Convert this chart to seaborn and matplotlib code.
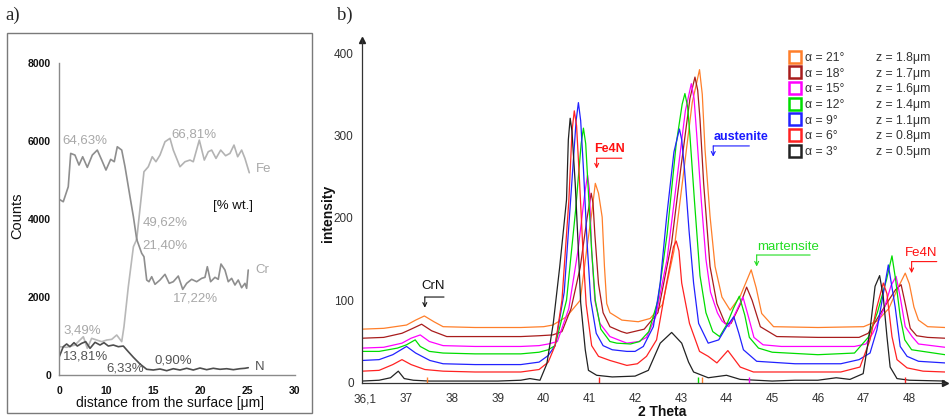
import numpy as np
import pandas as pd
import matplotlib
matplotlib.use('Agg')
import matplotlib.pyplot as plt
from matplotlib.lines import Line2D
from matplotlib.patches import Rectangle
from matplotlib.ticker import MultipleLocator, FixedLocator
import seaborn as sns

# ---------------- panel a data (EDS line scan) ----------------
fe_pos = [0.00, 0.42, 0.95, 1.21, 1.66, 2.09, 2.48, 2.97, 3.50, 4.03,
          4.50, 4.95, 5.45, 5.83, 6.15, 6.62, 6.97, 7.50, 7.86, 8.21,
          8.98, 9.44, 9.86, 10.25, 10.68, 11.21, 11.74, 12.09, 12.80, 13.33,
          13.86, 14.21, 14.85, 15.38, 15.80, 16.16, 16.62, 17.12, 17.64, 18.10,
          18.53, 18.92, 19.34, 19.69, 20.15]
fe_counts = [4500, 4438, 4823, 5677, 5634, 5378, 5591, 5319, 5634, 5762,
             5506, 5250, 5524, 5463, 5847, 5762, 5335, 4566, 4054, 3475,
             5207, 5335, 5591, 5463, 5634, 5975, 6062, 5762, 5335, 5463,
             5506, 5463, 6018, 5506, 5719, 5762, 5549, 5762, 5617, 5677,
             5890, 5591, 5762, 5549, 5182]
cr_pos = [0.00, 0.78, 1.66, 2.55, 2.97, 3.43, 3.97, 4.50, 5.03, 5.56,
          6.09, 6.62, 6.86, 7.32, 7.86, 8.21, 8.74, 8.98, 9.27, 9.51,
          9.80, 10.15, 10.68, 11.21, 11.66, 12.09, 12.62, 13.09, 13.51, 14.04,
          14.57, 15.10, 15.45, 15.70, 16.05, 16.51, 16.86, 17.15, 17.57, 17.92,
          18.28, 18.63, 18.98, 19.34, 19.69, 19.87, 20.04]
cr_counts = [725, 709, 768, 981, 683, 939, 896, 854, 896, 913,
             1024, 854, 1237, 2262, 3286, 3475, 3117, 3030, 2433, 2390,
             2518, 2323, 2433, 2579, 2348, 2390, 2535, 2194, 2348, 2451,
             2390, 2476, 2502, 2774, 2390, 2502, 2451, 2843, 2689, 2390,
             2476, 2305, 2433, 2236, 2348, 2220, 2689]
n_pos = [0.00, 0.42, 0.78, 1.13, 1.56, 1.91, 2.37, 2.80, 3.26, 3.79,
         4.32, 4.74, 5.20, 5.73, 6.26, 6.79, 7.32, 7.86, 8.56, 9.27,
         9.97, 10.68, 11.39, 12.09, 12.80, 13.51, 14.21, 14.92, 15.63, 16.33,
         17.04, 17.75, 18.46, 19.16, 19.69, 20.04]
n_counts = [470, 725, 794, 725, 828, 742, 811, 854, 683, 837,
            768, 828, 742, 768, 725, 742, 597, 453, 282, 146,
            128, 154, 110, 161, 128, 172, 128, 179, 136, 172,
            146, 161, 136, 161, 172, 187]
cross_pos = 8.21
a_xtick_pos = [0, 5, 10, 15, 20, 25]
a_xtick_labels = ['0', '10', '15', '20', '25', '30']
a_yticks = [0, 2000, 4000, 6000, 8000]
a_notes_text = ['64,63%', '66,81%', 'Fe', '[% wt.]', '49,62%', '21,40%', 'Cr',
                '17,22%', '3,49%', '13,81%', '6,33%', '0,90%', 'N']
a_notes_x = [0.29, 11.85, 20.86, 16.30, 8.88, 8.77, 20.75, 12.06, 0.39, 0.39, 4.95, 10.14, 20.75]
a_notes_y = [6018, 6164, 5268, 4336, 3911, 3329, 2689, 1964, 1152, 469, 172, 384, 213]
a_notes_col = ['#a8a8a8', '#a8a8a8', '#a8a8a8', '#111111', '#a8a8a8', '#a8a8a8', '#a8a8a8',
               '#a8a8a8', '#a8a8a8', '#555555', '#555555', '#555555', '#555555']

# ---------------- panel b data (XRD patterns) ----------------
th_3 = [36.03, 36.4, 36.65, 36.82, 36.95, 37.15, 37.5, 38.0, 38.5, 39.0,
        39.5, 39.7, 39.92, 40.07, 40.21, 40.35, 40.5, 40.54, 40.58, 40.62,
        40.69, 40.76, 40.81, 40.91, 40.98, 41.16, 41.5, 42.0, 42.29, 42.55,
        42.80, 43.02, 43.17, 43.28, 43.6, 44.0, 44.3, 45.0, 45.5, 46.0,
        46.4, 46.7, 46.99, 47.14, 47.25, 47.35, 47.43, 47.51, 47.58, 47.73,
        48.0, 48.78]
in_3 = [2, 3, 6, 14, 5, 3, 2, 2, 2, 2,
        3, 5, 3, 23, 72, 140, 222, 295, 321, 305,
        242, 161, 97, 40, 15, 9, 7, 8, 15, 48,
        61, 48, 25, 13, 6, 9, 4, 2, 3, 3,
        6, 4, 11, 64, 117, 130, 104, 56, 19, 5,
        3, 2]
th_6 = [36.03, 36.4, 36.7, 36.9, 37.1, 37.4, 37.8, 38.5, 39.0, 39.5,
        39.9, 40.1, 40.25, 40.4, 40.55, 40.62, 40.67, 40.72, 40.78, 40.86,
        40.93, 41.05, 41.2, 41.45, 41.82, 42.05, 42.25, 42.47, 42.69, 42.84,
        42.90, 42.96, 43.02, 43.19, 43.41, 43.6, 43.79, 44.03, 44.3, 44.59,
        45.5, 46.5, 46.92, 47.14, 47.29, 47.43, 47.51, 47.62, 47.73, 47.95,
        48.3, 48.78]
in_6 = [14, 15, 22, 28, 22, 16, 14, 13, 13, 13,
        16, 25, 45, 100, 220, 305, 330, 312, 250, 160,
        95, 45, 32, 27, 21, 23, 32, 52, 121, 165,
        172, 160, 121, 72, 38, 32, 24, 39, 19, 13,
        13, 13, 19, 52, 92, 121, 108, 56, 28, 18,
        14, 13]
th_9 = [36.03, 36.4, 36.7, 36.88, 37.0, 37.2, 37.51, 37.8, 38.5, 39.0,
        39.5, 39.9, 40.1, 40.25, 40.45, 40.6, 40.71, 40.76, 40.81, 40.87,
        40.95, 41.03, 41.15, 41.3, 41.5, 41.82, 42.0, 42.18, 42.40, 42.55,
        42.69, 42.85, 42.97, 43.02, 43.08, 43.18, 43.28, 43.39, 43.6, 43.83,
        44.0, 44.16, 44.27, 44.37, 44.66, 45.5, 46.5, 46.9, 47.14, 47.29,
        47.43, 47.54, 47.69, 47.8, 47.95, 48.2, 48.78]
in_9 = [27, 28, 34, 40, 44, 36, 27, 23, 22, 22,
        22, 25, 33, 45, 110, 230, 318, 340, 318, 260,
        170, 100, 60, 45, 40, 38, 38, 44, 68, 121,
        201, 280, 308, 295, 260, 185, 121, 72, 48, 52,
        68, 80, 60, 40, 26, 23, 23, 28, 36, 64,
        108, 143, 92, 44, 32, 26, 24]
th_12 = [36.03, 36.4, 36.8, 37.0, 37.19, 37.3, 37.5, 37.8, 38.5, 39.0,
         39.5, 39.9, 40.1, 40.25, 40.5, 40.7, 40.82, 40.87, 40.92, 40.97,
         41.05, 41.13, 41.25, 41.45, 41.6, 41.9, 42.1, 42.3, 42.5, 42.7,
         42.9, 43.03, 43.09, 43.15, 43.2, 43.3, 43.42, 43.55, 43.7, 43.85,
         44.0, 44.15, 44.28, 44.4, 44.5, 44.7, 45.0, 46.0, 46.8, 47.1,
         47.3, 47.5, 47.62, 47.7, 47.8, 47.9, 48.05, 48.78]
in_12 = [38, 38, 42, 46, 52, 44, 38, 36, 35, 35,
         35, 37, 40, 45, 100, 210, 290, 309, 290, 240,
         160, 100, 65, 50, 48, 47, 50, 62, 100, 180,
         290, 338, 351, 335, 300, 220, 130, 85, 62, 56,
         70, 90, 105, 82, 55, 42, 37, 34, 36, 55,
         85, 125, 154, 125, 80, 52, 40, 34]
th_15 = [36.03, 36.5, 36.9, 37.1, 37.3, 37.5, 37.8, 38.5, 39.0, 39.5,
         39.9, 40.1, 40.3, 40.55, 40.75, 40.9, 40.96, 41.0, 41.05, 41.12,
         41.23, 41.45, 41.82, 42.08, 42.25, 42.45, 42.7, 42.9, 43.1, 43.23,
         43.29, 43.35, 43.45, 43.55, 43.65, 43.8, 43.9, 44.05, 44.2, 44.36,
         44.48, 44.6, 44.8, 45.2, 46.0, 46.8, 47.05, 47.2, 47.45, 47.6,
         47.71, 47.8, 47.91, 48.06, 48.2, 48.78]
in_15 = [42, 43, 48, 54, 58, 50, 45, 44, 44, 44,
         45, 47, 50, 90, 160, 230, 252, 235, 161, 100,
         72, 56, 48, 50, 55, 80, 150, 240, 330, 363,
         345, 300, 220, 150, 110, 85, 75, 68, 85, 104,
         80, 55, 46, 44, 44, 44, 47, 60, 90, 118,
         129, 104, 68, 56, 47, 43]
th_18 = [36.03, 36.5, 36.9, 37.1, 37.33, 37.55, 37.88, 38.5, 39.0, 39.5,
         39.9, 40.2, 40.4, 40.6, 40.8, 40.95, 41.04, 41.08, 41.12, 41.2,
         41.3, 41.45, 41.7, 41.82, 42.2, 42.5, 42.8, 43.0, 43.2, 43.31,
         43.37, 43.42, 43.5, 43.64, 43.79, 43.97, 44.1, 44.3, 44.44, 44.56,
         44.74, 45.1, 46.0, 46.9, 47.1, 47.3, 47.5, 47.7, 47.82, 47.91,
         48.02, 48.16, 48.4, 48.78]
in_18 = [54, 55, 60, 65, 71, 63, 56, 56, 56, 56,
         57, 58, 62, 90, 140, 200, 230, 218, 180, 120,
         85, 68, 62, 60, 65, 85, 170, 260, 345, 371,
         355, 320, 242, 141, 96, 72, 72, 95, 116, 100,
         68, 56, 55, 55, 60, 78, 96, 113, 119, 96,
         66, 57, 55, 54]
th_21 = [36.03, 36.5, 37.0, 37.2, 37.39, 37.6, 37.8, 38.5, 39.0, 39.5,
         40.0, 40.2, 40.5, 40.8, 40.94, 41.05, 41.13, 41.2, 41.28, 41.33,
         41.38, 41.45, 41.71, 42.07, 42.33, 42.6, 42.85, 43.05, 43.25, 43.41,
         43.47, 43.53, 43.64, 43.75, 43.9, 44.08, 44.3, 44.54, 44.65, 44.77,
         45.03, 46.0, 47.0, 47.3, 47.55, 47.75, 47.91, 48.0, 48.1, 48.2,
         48.4, 48.78]
in_21 = [65, 66, 70, 76, 81, 74, 68, 67, 67, 67,
         68, 70, 80, 100, 161, 205, 242, 230, 201, 141,
         96, 85, 76, 74, 78, 95, 160, 250, 340, 380,
         350, 283, 202, 141, 104, 88, 105, 137, 115, 84,
         68, 67, 68, 75, 90, 115, 133, 120, 92, 76,
         68, 67]
series_names = ['α = 21°', 'α = 18°', 'α = 15°', 'α = 12°', 'α = 9°', 'α = 6°', 'α = 3°']
depth_labels = ['z = 1.8μm', 'z = 1.7μm', 'z = 1.6μm', 'z = 1.4μm', 'z = 1.1μm', 'z = 0.8μm', 'z = 0.5μm']
series_theta = [th_21, th_18, th_15, th_12, th_9, th_6, th_3]
series_int = [in_21, in_18, in_15, in_12, in_9, in_6, in_3]
series_colors = ['#ff7f2a', '#a81c1c', '#ff00ff', '#00dd00', '#2222ff', '#ff2222', '#222222']
b_xticks = [36.1, 37, 38, 39, 40, 41, 42, 43, 44, 45, 46, 47, 48]
b_xtick_labels = ['36,1', '37', '38', '39', '40', '41', '42', '43', '44', '45', '46', '47', '48']
b_yticks = [0, 100, 200, 300, 400]
ref_pos = [37.45, 41.2, 43.38, 43.47, 44.5, 47.9]
ref_cols = ['#ff7f2a', '#ff2222', '#00dd00', '#ff7f2a', '#ff00ff', '#ff2222']
# phase labels: text, text x, text y, arrow x0, line x1, line y, arrow tip y, colour, weight, size
ann_text = ['CrN', 'Fe4N', 'austenite', 'martensite', 'Fe4N']
ann_tx = [37.58, 41.43, 44.31, 45.35, 48.25]
ann_ty = [117, 284, 298, 165, 157.5]
ann_x0 = [37.40, 41.16, 43.71, 44.66, 48.05]
ann_x1 = [37.82, 41.71, 44.50, 45.83, 48.60]
ann_yl = [104, 272.5, 287.4, 155, 147]
ann_yt = [91, 260, 274.4, 141, 133]
ann_col = ['#111111', '#ff1010', '#1a1aff', '#22dd22', '#ff1010']
ann_weight = ['normal', 'bold', 'bold', 'normal', 'normal']
ann_size = [9.5, 9, 9, 9.5, 9.5]

# ---------------- style ----------------
sns.set_style('white')
plt.rcParams['font.family'] = ['Liberation Sans', 'DejaVu Sans']

W, H = 952, 418
fig = plt.figure(figsize=(W / 100, H / 100), dpi=100)

def fx(px):
    return px / W

def fy(py):
    return 1 - py / H

# ---------------- panel a ----------------
fig.add_artist(Rectangle((fx(7), fy(413)), 305 / W, 380 / H, transform=fig.transFigure,
                         fill=False, ec='#7a7a7a', lw=1.0))
axa = fig.add_axes([fx(59.3), fy(375), (295 - 59.3) / W, (375 - 62.7) / H])

fe_df = pd.DataFrame({'pos': fe_pos, 'counts': fe_counts})
cr_df = pd.DataFrame({'pos': cr_pos, 'counts': cr_counts})
n_df = pd.DataFrame({'pos': n_pos, 'counts': n_counts})
df_a = pd.concat([
    fe_df[fe_df.pos <= cross_pos].assign(segment='Fe1'),
    fe_df[fe_df.pos >= cross_pos].assign(segment='Fe2'),
    cr_df[cr_df.pos <= cross_pos].assign(segment='Cr1'),
    cr_df[cr_df.pos >= cross_pos].assign(segment='Cr2'),
    n_df.assign(segment='N'),
], ignore_index=True)
pal_a = {'Fe1': '#8e8e8e', 'Cr2': '#8e8e8e', 'Fe2': '#b3b3b3', 'Cr1': '#b8b8b8', 'N': '#4e4e4e'}
sns.lineplot(data=df_a, x='pos', y='counts', hue='segment',
             hue_order=['Cr1', 'Fe2', 'Fe1', 'Cr2', 'N'], palette=pal_a,
             estimator=None, sort=False, lw=1.2, legend=False, ax=axa)
axa.set_xlim(0, 25)
axa.set_ylim(0, 8000)
axa.set_xlabel('')
axa.set_ylabel('')
for s in ['top', 'right']:
    axa.spines[s].set_visible(False)
for s in ['left', 'bottom']:
    axa.spines[s].set_color('#8a8a8a')
    axa.spines[s].set_linewidth(1.0)
axa.xaxis.set_major_locator(FixedLocator(a_xtick_pos))
axa.set_xticklabels(a_xtick_labels)
axa.xaxis.set_minor_locator(MultipleLocator(0.5))
axa.set_yticks(a_yticks)
axa.set_yticklabels([str(v) for v in a_yticks])
axa.tick_params(axis='x', which='major', direction='out', length=4, width=0.8, color='#8a8a8a',
                pad=4, labelsize=7.5, labelcolor='#111111')
axa.tick_params(axis='x', which='minor', direction='out', length=2.5, width=0.7, color='#8a8a8a')
axa.tick_params(axis='y', which='major', direction='out', length=3, width=0.8, color='#8a8a8a',
                pad=3, labelsize=7.5, labelcolor='#111111')
for lab in axa.get_xticklabels() + axa.get_yticklabels():
    lab.set_fontweight('bold')
axa.patch.set_alpha(0)
for t, x, y, c in zip(a_notes_text, a_notes_x, a_notes_y, a_notes_col):
    axa.text(x, y, t, color=c, fontsize=9.5, ha='left', va='center')
fig.text(fx(17), fy(216), 'Counts', rotation=90, ha='center', va='center', fontsize=10.5, color='#111111')
fig.text(fx(170.5), fy(402.7), 'distance from the surface [μm]', ha='center', va='center',
         fontsize=10, color='#111111')

# ---------------- panel b ----------------
axb = fig.add_axes([fx(362), fy(382.7), (945 - 362) / W, (382.7 - 40) / H])
frames = []
for name, th, it in zip(series_names, series_theta, series_int):
    frames.append(pd.DataFrame({'theta': th, 'intensity': it, 'series': name}))
df_b = pd.concat(frames, ignore_index=True)
pal_b = dict(zip(series_names, series_colors))
sns.lineplot(data=df_b, x='theta', y='intensity', hue='series', hue_order=series_names,
             palette=pal_b, estimator=None, sort=False, lw=0.9, legend=False, ax=axb)
axb.vlines(ref_pos, 0, 7, colors=ref_cols, lw=1.0)
axb.set_xlim(36.026, 48.78)
axb.set_ylim(0, 416)
axb.set_xlabel('')
axb.set_ylabel('')
for s in ['top', 'right']:
    axb.spines[s].set_visible(False)
for s in ['left', 'bottom']:
    axb.spines[s].set_color('#333333')
    axb.spines[s].set_linewidth(0.9)
axb.xaxis.set_major_locator(FixedLocator(b_xticks))
axb.set_xticklabels(b_xtick_labels)
axb.xaxis.set_minor_locator(MultipleLocator(0.1))
axb.set_yticks(b_yticks)
axb.set_yticklabels([str(v) for v in b_yticks])
axb.yaxis.set_minor_locator(MultipleLocator(10))
axb.tick_params(axis='both', which='major', direction='out', length=4, width=0.8, color='#333333',
                labelsize=8.5, labelcolor='#333333')
axb.tick_params(axis='x', which='major', pad=3.5)
axb.tick_params(axis='y', which='major', pad=2)
axb.tick_params(axis='both', which='minor', direction='out', length=2.2, width=0.6, color='#444444')
axb.plot(1, 0, marker='>', ms=4, color='#222222', transform=axb.transAxes, clip_on=False)
axb.plot(0, 1, marker='^', ms=4, color='#222222', transform=axb.transAxes, clip_on=False)
axb.patch.set_alpha(0)

for t, tx, ty, x0, x1, yl, yt, c, wgt, fs in zip(ann_text, ann_tx, ann_ty, ann_x0, ann_x1,
                                                 ann_yl, ann_yt, ann_col, ann_weight, ann_size):
    axb.text(tx, ty, t, color=c, fontsize=fs, fontweight=wgt, ha='center', va='center')
    axb.annotate('', xy=(x1, yl), xytext=(x0, yl),
                 arrowprops=dict(arrowstyle='-', color=c, lw=0.8, shrinkA=0, shrinkB=0))
    axb.annotate('', xy=(x0, yt), xytext=(x0, yl),
                 arrowprops=dict(arrowstyle='->', color=c, lw=0.8, shrinkA=0, shrinkB=0,
                                 mutation_scale=7))

handles = [Line2D([], [], ls='none', marker='s', ms=8, mfc='white', mec=c, mew=1.8)
           for c in series_colors]
handles += [Line2D([], [], ls='none') for _ in depth_labels]
axb.legend(handles, series_names + depth_labels, ncol=2, loc='upper left',
           bbox_to_anchor=(fx(790), fy(52)), bbox_transform=fig.transFigure, frameon=False,
           fontsize=8.8, handlelength=0.8, handletextpad=0.42, columnspacing=1.4,
           labelspacing=0.3, borderpad=0, borderaxespad=0, labelcolor='#333333')

fig.text(fx(328), fy(213), 'intensity', rotation=90, ha='center', va='center', fontsize=10,
         fontweight='bold', color='#111111')
fig.text(fx(662), fy(411.5), '2 Theta', ha='center', va='center', fontsize=10,
         fontweight='bold', color='#111111')

fig.text(fx(5), fy(15), 'a)', ha='left', va='center', fontsize=13.5, family='Liberation Serif')
fig.text(fx(337), fy(15), 'b)', ha='left', va='center', fontsize=13.5, family='Liberation Serif')

fig.savefig('out.png', dpi=100, facecolor='white')
